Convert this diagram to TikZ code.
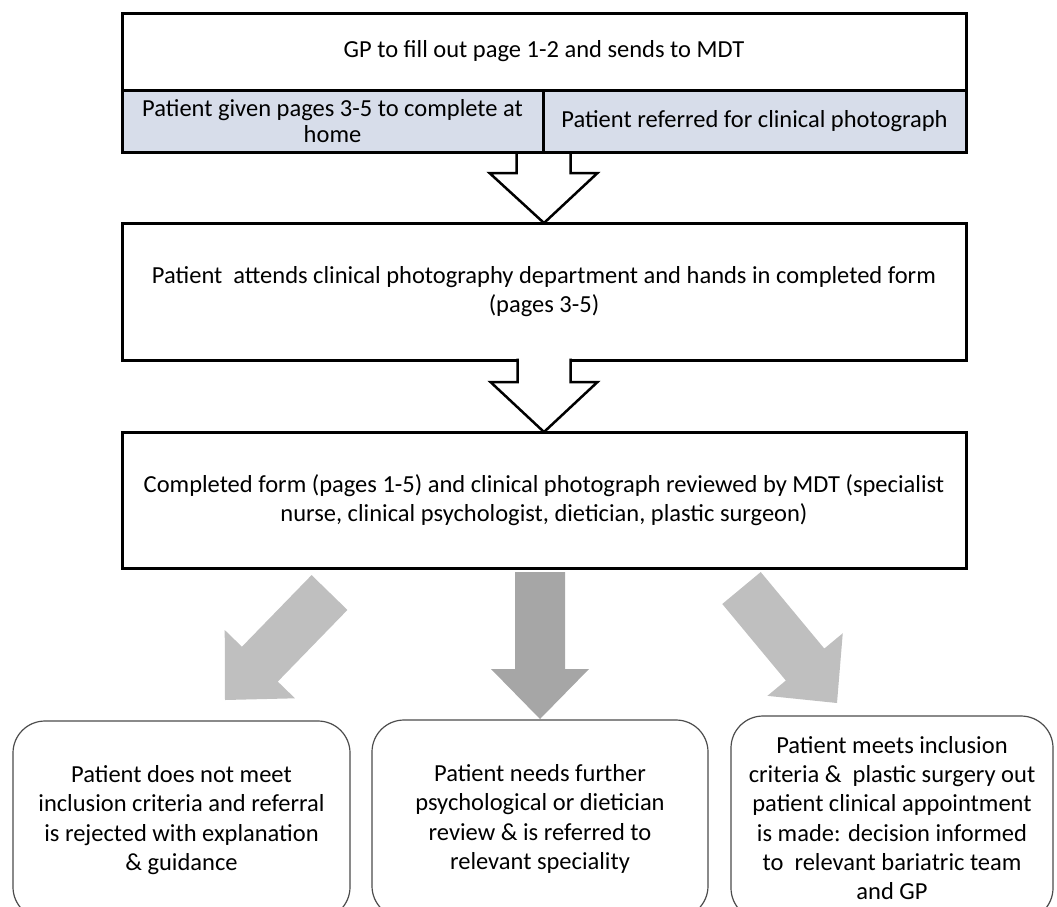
\documentclass[tikz,border=0pt]{standalone}
\usepackage{fontspec}
\setmainfont{Carlito}
\usetikzlibrary{calc}
\usetikzlibrary{backgrounds}
\definecolor{subfill}{RGB}{215,221,234}
\definecolor{sidegrey}{RGB}{191,191,191}
\definecolor{midgrey}{RGB}{166,166,166}
\newcommand{\greyarrow}[3]{%
\coordinate (hb) at ($(#2)!50pt!(#1)$);
\fill[#3] ($(#1)!25pt!90:(#2)$) -- ($(hb)!25pt!-90:(#1)$) -- ($(hb)!49pt!-90:(#1)$)
      -- (#2) -- ($(hb)!49pt!90:(#1)$) -- ($(hb)!25pt!90:(#1)$) -- ($(#1)!25pt!-90:(#2)$) -- cycle;}

\begin{document}
\begin{tikzpicture}[x=1pt, y=-1pt,
  font=\fontsize{24.5}{29.3}\selectfont,
  box/.style={draw, line width=3pt, align=center, inner sep=0pt, outer sep=0pt,
              minimum width=844pt, minimum height=136pt},
  subbox/.style={draw, line width=3pt, fill=subfill, align=center, inner sep=0pt, outer sep=0pt,
                 minimum height=62pt, font=\fontsize{24.5}{26}\selectfont},
  outcome/.style={draw=black!70, line width=1.2pt, rounded corners=32pt, align=center,
                  inner sep=0pt, outer sep=0pt, minimum height=198pt},
  hollow/.style={draw, line width=2.5pt, fill=white, line join=miter}]
\useasboundingbox (0,0) rectangle (1057,906);
\clip (0,0) rectangle (1057,906);

\node[box, minimum height=77pt] (gp) at (544,51.5) {GP to fill out page 1-2 and sends to MDT};
\node[subbox, minimum width=421pt, anchor=north west] (home) at (gp.south west)
     {Patient given pages 3-5 to complete at\\home};
\node[subbox, minimum width=423pt, anchor=north east] (photo) at (gp.south east)
     {Patient referred for clinical photograph};
\node[box, minimum height=137pt] (attend) at (544,291.5)
     {Patient\ \ attends clinical photography department and hands in completed form\\(pages 3-5)};
\node[box] (review) at (544,500)
     {Completed form (pages 1-5) and clinical photograph reviewed by MDT (specialist\\nurse, clinical psychologist, dietician, plastic surgeon)};

\node[outcome, minimum width=337pt] (reject) at (181.5,820)
     {Patient does not meet\\inclusion criteria and referral\\is rejected with explanation\\\& guidance};
\node[outcome, minimum width=336pt] (further) at (540,819)
     {Patient needs further\\psychological or dietician\\review \& is referred to\\relevant speciality};
\node[outcome, minimum width=322pt, minimum height=204pt] (meets) at (892,818)
     {Patient meets inclusion\\criteria \&\ \ plastic surgery out\\patient clinical appointment\\is made: decision informed\\to\ \ relevant bariatric team\\and GP};

\begin{pgfonlayer}{background}
\draw[hollow] ([xshift=-26.5pt]home.south east) -- ++(0,21) -- ++(-27,0) -- (attend.north)
      -- ++(53.5,-50) -- ++(-27,0) -- ++(0,-21) -- cycle;
\end{pgfonlayer}
\path[hollow] ([xshift=-26.5pt,yshift=1.5pt]attend.south) -- ++(0,23.5) -- ++(-27,0) -- (review.north)
      -- ++(53.5,-50) -- ++(-27,0) -- ++(0,-23.5);

\coordinate (lefttail) at (329.5,592.5);
\coordinate (lefttip) at (225,700);
\coordinate (midtail) at (540,572);
\coordinate (midtip) at ([yshift=1pt]further.north);
\coordinate (righttail) at (741.5,588);
\coordinate (righttip) at (837,703);
\greyarrow{lefttail}{lefttip}{sidegrey}
\greyarrow{midtail}{midtip}{midgrey}
\greyarrow{righttail}{righttip}{sidegrey}
\end{tikzpicture}
\end{document}
